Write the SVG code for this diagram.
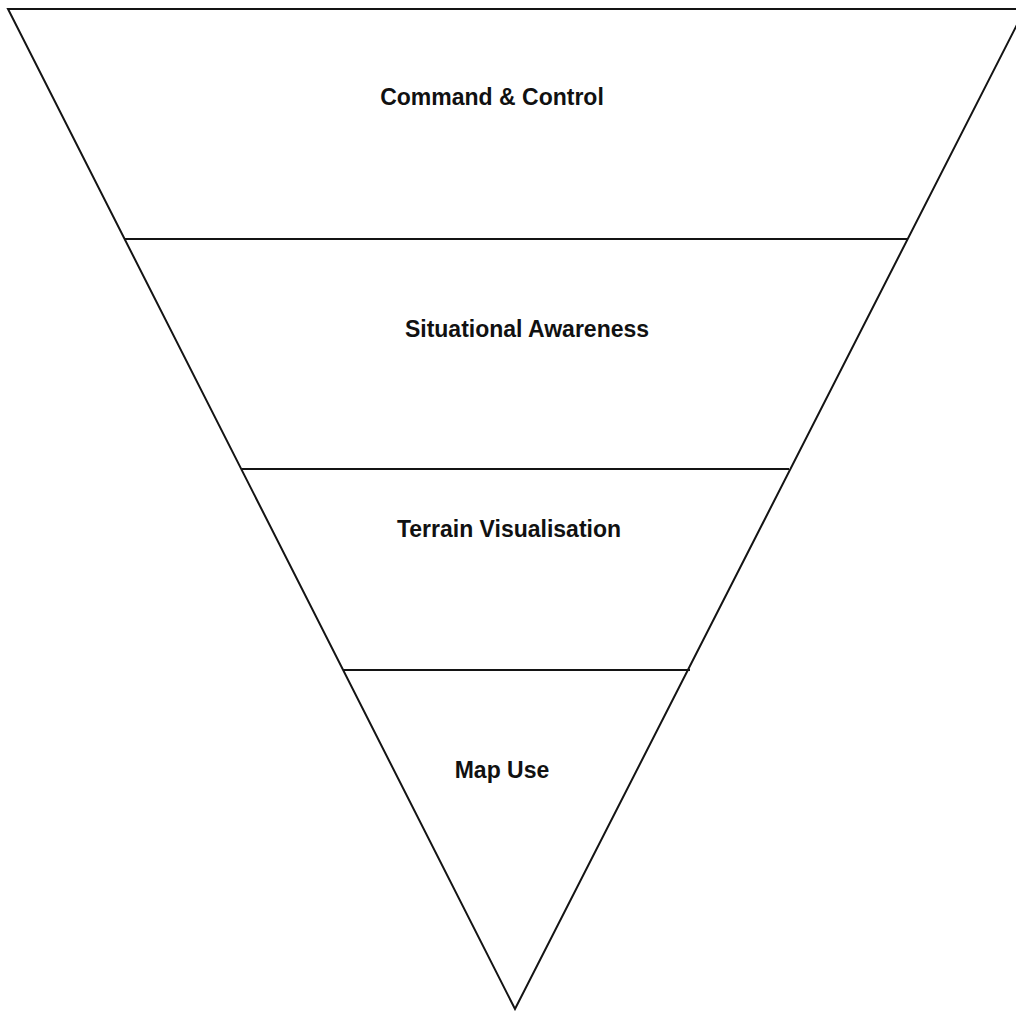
<svg xmlns="http://www.w3.org/2000/svg" width="1016" height="1011" viewBox="0 0 1016 1011">
<style>
.ln{stroke:#141414;stroke-width:2;fill:none;stroke-linejoin:miter}
.lb{font-family:"Liberation Sans",Arial,sans-serif;font-weight:bold;font-size:23px;fill:#111;text-anchor:middle}
</style>
<rect width="1016" height="1011" fill="#fff"/>
<g id="connectors">
<path class="ln" d="M1016 9 L8 9 L515 1009 L1025 9"/>
<line class="ln" x1="124.5" y1="239" x2="907" y2="239"/>
<line class="ln" x1="242" y1="469" x2="789" y2="469"/>
<line class="ln" x1="343" y1="670" x2="690" y2="670"/>
</g>
<g id="node-command"><text class="lb" x="492" y="105">Command &amp; Control</text></g>
<g id="node-situational"><text class="lb" x="527" y="337">Situational Awareness</text></g>
<g id="node-terrain"><text class="lb" x="509" y="537">Terrain Visualisation</text></g>
<g id="node-map"><text class="lb" x="502" y="778">Map Use</text></g>
</svg>
